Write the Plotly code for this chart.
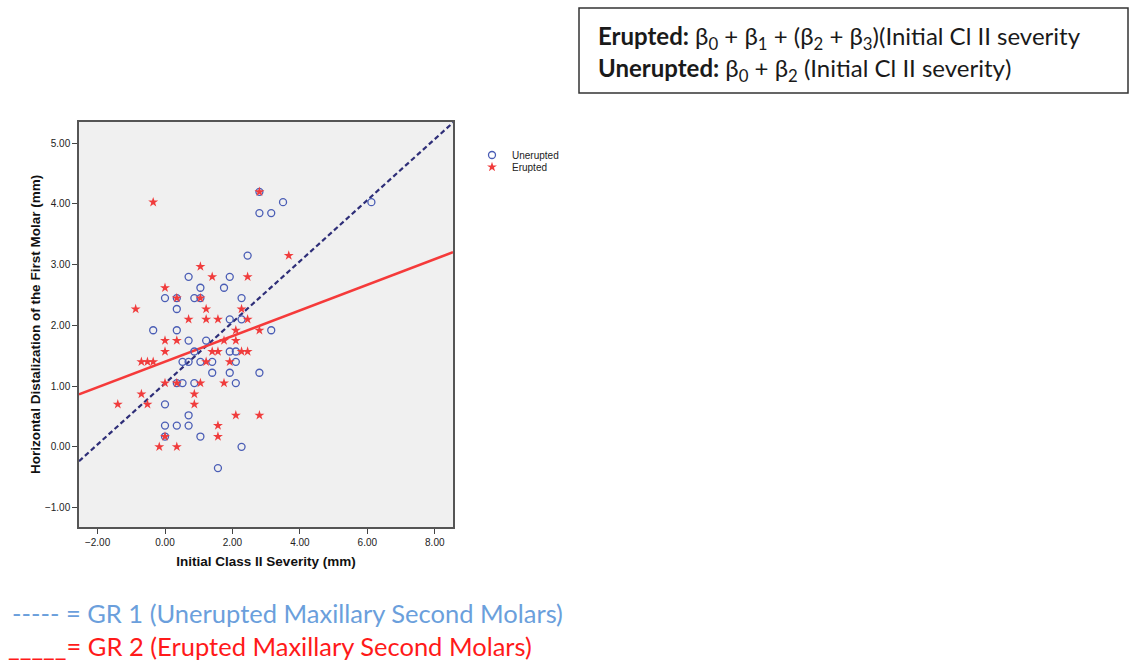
import plotly.graph_objects as go

# ---- data ----
unerupted_x = [2.80, 2.80, 3.15, 3.50, 6.12, 2.45, 0.70, 1.92, 1.05, 1.75,
               0.00, 0.35, 0.87, 1.05, 2.27, 0.35, 1.92, 2.27, -0.35, 0.35,
               3.15, 0.70, 1.22, 0.87, 1.92, 2.10, 0.52, 0.70, 1.05, 1.40,
               2.10, 1.40, 1.92, 2.80, 0.35, 0.52, 0.87, 2.10, 0.00, 0.70,
               0.00, 0.35, 0.70, 0.00, 1.05, 2.27, 1.57]
unerupted_y = [4.20, 3.85, 3.85, 4.03, 4.03, 3.15, 2.80, 2.80, 2.62, 2.62,
               2.45, 2.45, 2.45, 2.45, 2.45, 2.27, 2.10, 2.10, 1.92, 1.92,
               1.92, 1.75, 1.75, 1.57, 1.57, 1.57, 1.40, 1.40, 1.40, 1.40,
               1.40, 1.22, 1.22, 1.22, 1.05, 1.05, 1.05, 1.05, 0.70, 0.52,
               0.35, 0.35, 0.35, 0.17, 0.17, 0.00, -0.35]

erupted_x = [2.80, -0.35, 3.67, 1.05, 1.40, 2.45, 0.00, 0.35, 1.05, -0.87,
             1.22, 2.27, 0.70, 1.22, 1.57, 2.45, 2.10, 2.80, 0.00, 0.35,
             1.75, 2.10, 0.00, 1.40, 1.57, 2.27, 2.45, -0.70, -0.52, -0.35,
             1.22, 1.92, 0.00, 0.35, 1.05, 1.75, -0.70, 0.87, -1.40, -0.52,
             0.87, 2.10, 2.80, 1.57, 0.00, 1.57, -0.17, 0.35]
erupted_y = [4.20, 4.03, 3.15, 2.97, 2.80, 2.80, 2.62, 2.45, 2.45, 2.27,
             2.27, 2.27, 2.10, 2.10, 2.10, 2.10, 1.92, 1.92, 1.75, 1.75,
             1.75, 1.75, 1.57, 1.57, 1.57, 1.57, 1.57, 1.40, 1.40, 1.40,
             1.40, 1.40, 1.05, 1.05, 1.05, 1.05, 0.87, 0.87, 0.70, 0.70,
             0.70, 0.52, 0.52, 0.35, 0.17, 0.17, 0.00, 0.00]

# fitted lines: intercept, slope
unerupted_fit = [1.045, 0.503]
erupted_fit = [1.404, 0.211]

x_range = [-2.55, 8.54]
y_range = [-1.32, 5.35]
x_ticks = [-2, 0, 2, 4, 6, 8]
y_ticks = [-1, 0, 1, 2, 3, 4, 5]

# ---- layout geometry (pixels) ----
W, H = 1130, 666
L, R, T, B = 79, 453, 122, 527


def px(x):
    return (x - L) / (R - L)


def py(y):
    return (B - y) / (B - T)


fig = go.Figure()

fig.add_trace(go.Scatter(
    x=x_range, y=[unerupted_fit[0] + unerupted_fit[1] * v for v in x_range],
    mode="lines", line=dict(color="#2E2E78", width=2.2, dash="5px,3px"),
    showlegend=False, hoverinfo="skip"))
fig.add_trace(go.Scatter(
    x=x_range, y=[erupted_fit[0] + erupted_fit[1] * v for v in x_range],
    mode="lines", line=dict(color="#F53A3A", width=2.6),
    showlegend=False, hoverinfo="skip"))

fig.add_trace(go.Scatter(
    x=unerupted_x, y=unerupted_y, mode="markers", name="Unerupted",
    legend="legend",
    marker=dict(symbol="circle-open", size=7, color="#4A5DB5",
                line=dict(width=1.3, color="#4A5DB5"))))
fig.add_trace(go.Scatter(
    x=erupted_x, y=erupted_y, mode="markers", name="Erupted",
    legend="legend2",
    marker=dict(symbol="star", size=7.5, color="#F03C3C",
                line=dict(width=0))))

axis_font = dict(family="Liberation Sans, Arial", size=10, color="#222")
title_font = dict(family="Liberation Sans, Arial", size=13.5, color="#111")

fig.update_xaxes(
    range=x_range, tickvals=x_ticks, tickformat=".2f", ticks="outside",
    ticklen=5, tickcolor="#444", showgrid=False, zeroline=False,
    showline=True, mirror=True, linecolor="#555", linewidth=1.5,
    tickfont=axis_font,
    title=dict(text="<b>Initial Class II Severity (mm)</b>", font=title_font,
               standoff=10))
fig.update_yaxes(
    range=y_range, tickvals=y_ticks, tickformat=".2f", ticks="outside",
    ticklen=5, tickcolor="#444", showgrid=False, zeroline=False,
    showline=True, mirror=True, linecolor="#555", linewidth=1.5,
    tickfont=axis_font,
    title=dict(text="<b>Horizontal Distalization of the First Molar (mm)</b>",
               font=title_font, standoff=1))

leg_font = dict(family="Liberation Sans, Arial", size=10, color="#222")
fig.update_layout(
    width=W, height=H,
    margin=dict(l=L, r=W - R, t=T, b=H - B, autoexpand=False),
    paper_bgcolor="white", plot_bgcolor="#F0F0F0",
    legend=dict(x=px(472), y=py(155), xanchor="left", yanchor="middle",
                font=leg_font, bgcolor="rgba(0,0,0,0)", itemwidth=30),
    legend2=dict(x=px(472), y=py(167), xanchor="left", yanchor="middle",
                 font=leg_font, bgcolor="rgba(0,0,0,0)", itemwidth=30),
)

# formula box
fig.add_shape(type="rect", xref="paper", yref="paper",
              x0=px(579), x1=px(1128), y0=py(93), y1=py(8),
              line=dict(color="#333", width=1.5), fillcolor="white")
box_font = dict(family="Lato, Noto Sans", size=24, color="#1a1a1a")
fig.add_annotation(
    xref="paper", yref="paper", x=px(596), y=py(38), xanchor="left",
    yanchor="middle", showarrow=False, font=box_font,
    text="<b>Erupted:</b> β<sub>0</sub> + β<sub>1</sub> + (β<sub>2</sub> + β<sub>3</sub>)(Initial Cl II severity")
fig.add_annotation(
    xref="paper", yref="paper", x=px(596), y=py(69), xanchor="left",
    yanchor="middle", showarrow=False, font=box_font,
    text="<b>Unerupted:</b> β<sub>0</sub> + β<sub>2</sub> (Initial Cl II severity)")

# bottom key
key_font = dict(family="Lato, Noto Sans", size=25.5)
fig.add_annotation(
    xref="paper", yref="paper", x=px(10), y=py(613), xanchor="left",
    yanchor="middle", showarrow=False,
    font=dict(color="#6B9FDC", **key_font),
    text="----- = GR 1 (Unerupted Maxillary Second Molars)")
fig.add_annotation(
    xref="paper", yref="paper", x=px(6), y=py(646), xanchor="left",
    yanchor="middle", showarrow=False,
    font=dict(color="#FF1A1A", **key_font),
    text="_____= GR 2 (Erupted Maxillary Second Molars)")

fig.write_html("out.html",
               config={"displayModeBar": False},
               post_script="document.body.style.margin='0';"
                           "document.body.style.overflow='hidden';")
